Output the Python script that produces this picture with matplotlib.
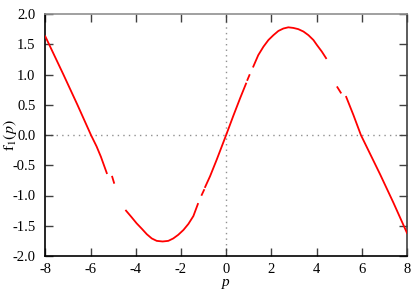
import numpy as np
import matplotlib
matplotlib.use("Agg")
import matplotlib.pyplot as plt

plt.rcParams['font.family'] = ['Liberation Serif', 'DejaVu Serif']
plt.rcParams['mathtext.fontset'] = 'stix'

nan = np.nan
# values (NaN = gap in the curve)
p_vals = [-8.0, -7.2, -6.58, -5.98, -5.73, -5.54, -5.28, nan,
          -5.04, -4.96, nan,
          -4.43, -4.18, -3.96, -3.73, -3.51, -3.29, -3.07, -2.81, -2.56,
          -2.34, -2.12, -1.89, -1.67, -1.45, -1.25, nan,
          -1.08, -0.98, nan,
          -0.93, -0.71, -0.42, 0.0, 0.32, 0.62, 0.88, nan,
          0.94, 1.03, nan,
          1.20, 1.42, 1.65, 1.87, 2.09, 2.31, 2.53, 2.75, 2.97, 3.19, 3.42,
          3.64, 3.86, 4.01, 4.23, 4.42, nan,
          4.92, 5.07, nan,
          5.31, 5.47, 5.63, 5.96, 6.81, 7.4, 8.0]
f_vals = [1.63, 1.0, 0.5, 0.0, -0.19, -0.36, -0.63, nan,
          -0.69, -0.79, nan,
          -1.25, -1.36, -1.46, -1.55, -1.64, -1.71, -1.75, -1.76, -1.75,
          -1.71, -1.65, -1.57, -1.47, -1.34, -1.14, nan,
          -0.99, -0.91, nan,
          -0.86, -0.68, -0.41, 0.0, 0.32, 0.61, 0.85, nan,
          0.91, 0.99, nan,
          1.13, 1.32, 1.46, 1.57, 1.65, 1.72, 1.76, 1.78, 1.77, 1.75, 1.71,
          1.65, 1.57, 1.49, 1.38, 1.27, nan,
          0.79, 0.70, nan,
          0.63, 0.48, 0.33, 0.0, -0.65, -1.12, -1.62]

x_ticks = [-8, -6, -4, -2, 0, 2, 4, 6, 8]
y_ticks = [-2.0, -1.5, -1.0, -0.5, 0.0, 0.5, 1.0, 1.5, 2.0]

W, H = 415, 291
fig = plt.figure(figsize=(W / 100, H / 100), dpi=100)
ax = fig.add_axes([45.3 / W, 35 / H, (407 - 45.3) / W, (256 - 14) / H])

ax.axhline(0, color='#909090', lw=1.0, ls=(0, (1, 3)), zorder=1)
ax.axvline(0, color='#909090', lw=1.0, ls=(0, (1, 3)), zorder=1)
ax.plot(p_vals, f_vals, color='#ff0000', lw=1.3, zorder=3)

ax.set_xlim(-8, 8)
ax.set_ylim(-2, 2)
ax.set_xticks(x_ticks)
ax.set_xticklabels([str(v) for v in x_ticks])
ax.set_yticks(y_ticks)
ax.set_yticklabels([f"{v:.1f}" for v in y_ticks])
ax.tick_params(direction='in', length=6, width=1, color='#404040',
               labelsize=10.5, top=True, right=True)
ax.tick_params(axis='x', pad=5)
ax.tick_params(axis='y', pad=7)

for s in ['left', 'bottom']:
    ax.spines[s].set_color('black')
    ax.spines[s].set_linewidth(1.2)
ax.spines['top'].set_color('#909090')
ax.spines['right'].set_color('#404040')
ax.spines['top'].set_linewidth(1.2)
ax.spines['right'].set_linewidth(1.2)

fig.text(226 / W, 1 - 286 / H, 'p', fontsize=11, fontstyle='italic',
         ha='center', va='baseline')
fig.text(10 / W, 1 - 135 / H, r'$\mathrm{f}_1(p)$', fontsize=11.5,
         rotation=90, ha='center', va='center')

fig.savefig('out.png', dpi=100)
